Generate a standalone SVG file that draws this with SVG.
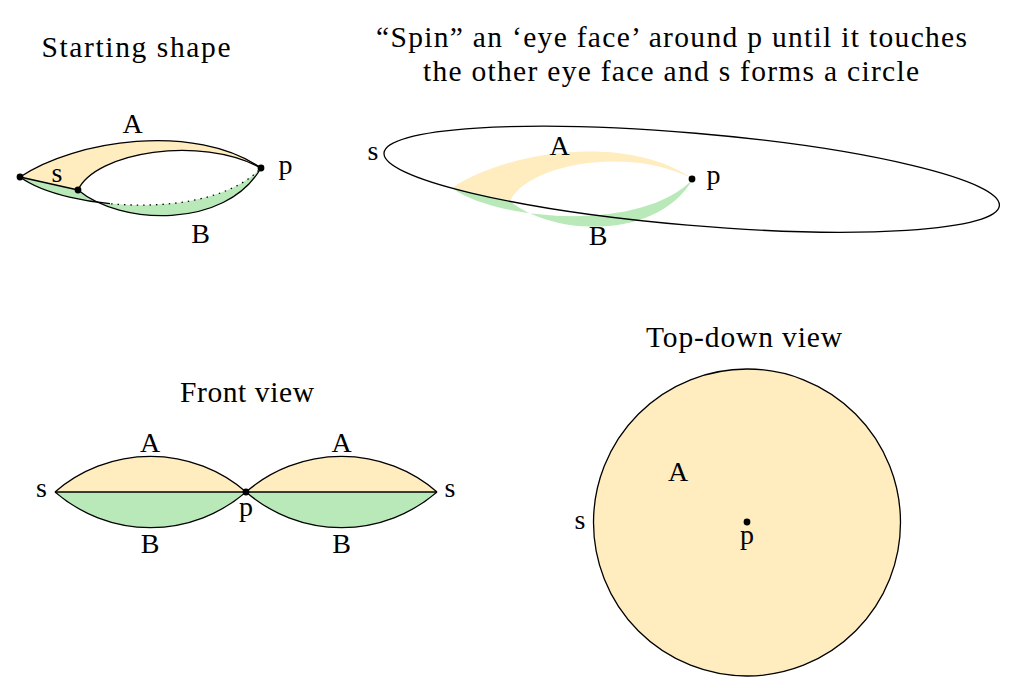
<svg xmlns="http://www.w3.org/2000/svg" width="1023" height="696" viewBox="0 0 1023 696">
<style>
text { font-family: "Liberation Serif", "DejaVu Serif", serif; fill: #000; }
.lbl { font-size: 28px; text-anchor: middle; }
.ttl { font-size: 29.5px; }
.ln { fill: none; stroke: #000; stroke-width: 1.3; }
.dot { fill: #000; }
.ya { fill: #FFECBF; }
.gb { fill: #B9E9B9; }
</style>
<defs>
<clipPath id="solidPart"><rect x="0" y="100" width="110" height="150"/></clipPath>
<clipPath id="dottedPart"><rect x="110" y="100" width="200" height="150"/></clipPath>
<path id="yellowShape" d="M20,177 C75,140 195,122 261,168 C200,135 96,152 78,190 Z"/>
<path id="greenShape" d="M20,177 L78,190 C120,225 225,230 261,168 C210,222 65,210 20,177 Z"/>
</defs>
<rect x="0" y="0" width="1023" height="696" fill="#fff"/>

<g id="titles">
<text class="ttl" x="41.5" y="57" textLength="189" lengthAdjust="spacing">Starting shape</text>
<text class="ttl" x="376" y="47" textLength="591" lengthAdjust="spacing">“Spin” an ‘eye face’ around p until it touches</text>
<text class="ttl" x="423" y="81" textLength="496" lengthAdjust="spacing">the other eye face and s forms a circle</text>
<text class="ttl" x="180" y="402" textLength="134" lengthAdjust="spacing">Front view</text>
<text class="ttl" x="646" y="347" textLength="196" lengthAdjust="spacing">Top-down view</text>
</g>

<g id="starting-shape">
<use href="#yellowShape" class="ya"/>
<use href="#greenShape" class="gb"/>
<path class="ln" d="M20,177 C75,140 195,122 261,168"/>
<path class="ln" d="M78,190 C96,152 200,135 261,168"/>
<path class="ln" d="M78,190 C120,225 225,230 261,168"/>
<path class="ln" d="M20,177 L78,190"/>
<path class="ln" clip-path="url(#solidPart)" d="M20,177 C65,210 210,222 261,168"/>
<path class="ln" clip-path="url(#dottedPart)" stroke-dasharray="1.4 5" d="M20,177 C65,210 210,222 261,168"/>
<circle class="dot" cx="20" cy="177" r="3.4"/>
<circle class="dot" cx="78" cy="190" r="3.4"/>
<circle class="dot" cx="261" cy="168" r="3.4"/>
<text class="lbl" x="132.5" y="133">A</text>
<text class="lbl" x="57" y="182">s</text>
<text class="lbl" x="285.5" y="174">p</text>
<text class="lbl" x="200.5" y="243">B</text>
</g>

<g id="spin-view">
<g transform="translate(432,11)">
<use href="#yellowShape" class="ya"/>
<use href="#greenShape" class="gb"/>
</g>
<ellipse class="ln" cx="691.7" cy="179.2" rx="308.8" ry="46.1" transform="rotate(4.9 691.7 179.2)"/>
<circle class="dot" cx="692" cy="179" r="3.4"/>
<text class="lbl" x="373" y="160">s</text>
<text class="lbl" x="559.5" y="155">A</text>
<text class="lbl" x="713.5" y="184">p</text>
<text class="lbl" x="598" y="245">B</text>
</g>

<g id="front-view">
<path class="ya" d="M55,492 A146,146 0 0 1 246,492 Z"/>
<path class="gb" d="M55,492 A146,146 0 0 0 246,492 Z"/>
<path class="ya" d="M246,492 A146,146 0 0 1 437,492 Z"/>
<path class="gb" d="M246,492 A146,146 0 0 0 437,492 Z"/>
<path class="ln" d="M55,492 A146,146 0 0 1 246,492 A146,146 0 0 1 437,492"/>
<path class="ln" d="M55,492 A146,146 0 0 0 246,492 A146,146 0 0 0 437,492"/>
<path class="ln" d="M55,492 L437,492"/>
<circle class="dot" cx="246" cy="492" r="3.4"/>
<text class="lbl" x="41.5" y="497">s</text>
<text class="lbl" x="450" y="497">s</text>
<text class="lbl" x="150" y="452">A</text>
<text class="lbl" x="341.5" y="452">A</text>
<text class="lbl" x="150" y="553">B</text>
<text class="lbl" x="341.5" y="553">B</text>
<text class="lbl" x="246" y="516">p</text>
</g>

<g id="top-down-view">
<circle cx="747" cy="522.5" r="153.5" fill="#FFECBF" stroke="#000" stroke-width="1.3"/>
<circle class="dot" cx="747" cy="522" r="3.4"/>
<text class="lbl" x="678" y="481">A</text>
<text class="lbl" x="580" y="529">s</text>
<text class="lbl" x="747" y="544">p</text>
</g>
</svg>
